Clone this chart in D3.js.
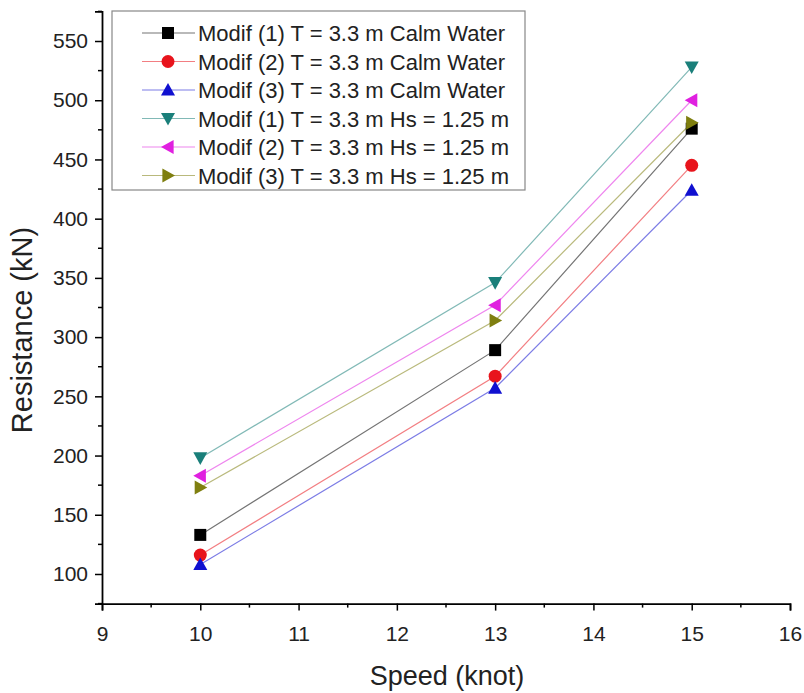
<!DOCTYPE html>
<html>
<head>
<meta charset="utf-8">
<script src="https://cdn.jsdelivr.net/npm/d3@7"></script>
<style>
  html, body { margin: 0; padding: 0; background: #fff; }
  svg { display: block; font-family: "Liberation Sans", Arial, sans-serif; }
</style>
</head>
<body>
<svg id="chart" width="804" height="693"></svg>
<script>
// Ship resistance versus speed for three hull modifications
const speeds = [10, 13, 15];
const seriesNames = [
  "Modif (1) T = 3.3 m Calm Water",
  "Modif (2) T = 3.3 m Calm Water",
  "Modif (3) T = 3.3 m Calm Water",
  "Modif (1) T = 3.3 m Hs = 1.25 m",
  "Modif (2) T = 3.3 m Hs = 1.25 m",
  "Modif (3) T = 3.3 m Hs = 1.25 m"
];
const modif1Calm = [133, 289, 476];
const modif2Calm = [116, 267, 445];
const modif3Calm = [108, 257, 424];
const modif1Wave = [198, 346, 528];
const modif2Wave = [183, 327, 500];
const modif3Wave = [173, 314, 481];
const seriesValues = [modif1Calm, modif2Calm, modif3Calm, modif1Wave, modif2Wave, modif3Wave];
const seriesColors = ["#000000", "#e8141c", "#1010d0", "#1a7f7a", "#e020e0", "#7f7f10"];
const seriesSymbols = ["square", "circle", "triUp", "triDown", "triLeft", "triRight"];
const xTicks = [9, 10, 11, 12, 13, 14, 15, 16];
const yTicks = [100, 150, 200, 250, 300, 350, 400, 450, 500, 550];

const svg = d3.select("#chart");
const x = d3.scaleLinear().domain([9, 16]).range([102, 790]);
const y = d3.scaleLinear().domain([75, 575]).range([603.6, 11.4]);

function symbolPath(kind, cx, cy) {
  const s = 7;
  switch (kind) {
    case "square": return `M${cx - 6},${cy - 6}h12v12h-12Z`;
    case "triUp": return `M${cx},${cy - s}L${cx + s},${cy + s * 0.8}L${cx - s},${cy + s * 0.8}Z`;
    case "triDown": return `M${cx},${cy + s}L${cx + s},${cy - s * 0.8}L${cx - s},${cy - s * 0.8}Z`;
    case "triLeft": return `M${cx - s},${cy}L${cx + s * 0.8},${cy - s}L${cx + s * 0.8},${cy + s}Z`;
    case "triRight": return `M${cx + s},${cy}L${cx - s * 0.8},${cy - s}L${cx - s * 0.8},${cy + s}Z`;
  }
}
function drawSymbol(g, kind, cx, cy, color) {
  if (kind === "circle") {
    g.append("circle").attr("cx", cx).attr("cy", cy).attr("r", 6.5).attr("fill", color);
  } else {
    g.append("path").attr("d", symbolPath(kind, cx, cy)).attr("fill", color);
  }
}

// series lines and markers
const line = d3.line().x((d, i) => x(speeds[i])).y(d => y(d));
seriesValues.forEach((vals, k) => {
  svg.append("path").attr("d", line(vals)).attr("fill", "none")
    .attr("stroke", seriesColors[k]).attr("stroke-opacity", 0.55).attr("stroke-width", 1.2);
});
seriesValues.forEach((vals, k) => {
  const g = svg.append("g");
  vals.forEach((v, i) => drawSymbol(g, seriesSymbols[k], x(speeds[i]), y(v), seriesColors[k]));
});

// axes
const xAxis = d3.axisBottom(x).tickValues(xTicks).tickSize(7).tickPadding(15).tickFormat(d3.format("d"));
const gx = svg.append("g").attr("transform", `translate(0,${y(75)})`).call(xAxis);
gx.selectAll(".tick text").attr("font-size", 21).attr("fill", "#222");
const xMinor = d3.range(9.5, 16, 1);
gx.selectAll(".minor").data(xMinor).enter().append("line")
  .attr("x1", d => x(d)).attr("x2", d => x(d)).attr("y1", 0).attr("y2", 4).attr("stroke", "#000").attr("stroke-width", 1.5);

const yAxis = d3.axisLeft(y).tickValues(yTicks).tickSize(7).tickPadding(7).tickFormat(d3.format("d"));
const gy = svg.append("g").attr("transform", `translate(${x(9)},0)`).call(yAxis);
gy.selectAll(".tick text").attr("font-size", 21).attr("fill", "#222");
const yMinor = d3.range(125, 576, 50).concat([75]);
gy.selectAll(".minor").data(yMinor).enter().append("line")
  .attr("x1", 0).attr("x2", -4).attr("y1", d => y(d)).attr("y2", d => y(d)).attr("stroke", "#000").attr("stroke-width", 1.5);

[gx, gy].forEach(g => {
  g.select(".domain").attr("stroke-width", 1.8);
  g.selectAll(".tick line").attr("stroke-width", 1.5);
});

// axis titles
svg.append("text").attr("x", 447).attr("y", 685).attr("text-anchor", "middle")
  .attr("font-size", 27).attr("fill", "#222").text("Speed (knot)");
svg.append("text").attr("transform", "translate(32,330) rotate(-90)").attr("text-anchor", "middle")
  .attr("font-size", 29).attr("fill", "#222").text("Resistance (kN)");

// legend
const lg = svg.append("g");
lg.append("rect").attr("x", 112).attr("y", 11).attr("width", 413).attr("height", 179)
  .attr("fill", "#fff").attr("stroke", "#888").attr("stroke-width", 1.2);
seriesNames.forEach((name, k) => {
  const cy = 33 + k * 28.5;
  lg.append("line").attr("x1", 142).attr("x2", 195).attr("y1", cy).attr("y2", cy)
    .attr("stroke", seriesColors[k]).attr("stroke-opacity", 0.55).attr("stroke-width", 1.2);
  drawSymbol(lg, seriesSymbols[k], 168, cy, seriesColors[k]);
  lg.append("text").attr("x", 198).attr("y", cy + 8).attr("font-size", 22).attr("fill", "#222").text(name);
});
</script>
</body>
</html>
